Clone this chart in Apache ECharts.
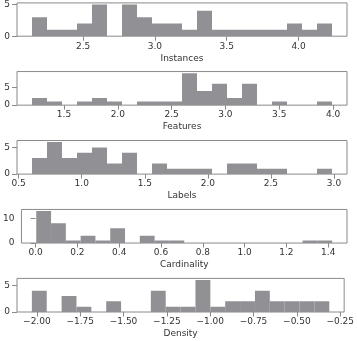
<!DOCTYPE html>
<html>
<head>
<meta charset="utf-8">
<script src="https://cdn.jsdelivr.net/npm/echarts@6/dist/echarts.min.js"></script>
<style>
  html, body { margin: 0; padding: 0; background: #fff; }
  #chart { width: 357px; height: 341px; }
</style>
</head>
<body>
<div id="chart"></div>
<script>
// Five 20-bin histograms, one per dataset statistic (log scale values).
const panelNames = ['Instances', 'Features', 'Labels', 'Cardinality', 'Density'];

// Bin counts (20 equal-width bins between the data min and max)
const instancesCounts   = [3, 1, 1, 2, 5, 0, 5, 3, 2, 2, 1, 4, 1, 1, 1, 1, 1, 2, 1, 2];
const featuresCounts    = [2, 1, 0, 1, 2, 1, 0, 1, 1, 1, 9, 4, 6, 2, 6, 0, 1, 0, 0, 1];
const labelsCounts      = [3, 6, 3, 4, 5, 2, 4, 0, 2, 1, 1, 1, 0, 2, 2, 1, 1, 0, 0, 1];
const cardinalityCounts = [13, 8, 1, 3, 1, 6, 0, 3, 1, 1, 0, 0, 0, 0, 0, 0, 0, 0, 1, 1];
const densityCounts     = [4, 0, 3, 1, 0, 2, 0, 0, 4, 1, 1, 6, 1, 2, 2, 4, 2, 2, 2, 2];

// Data min and max of each statistic (the histogram range)
const instancesRange   = [2.144, 4.233];
const featuresRange    = [1.203, 3.990];
const labelsRange      = [0.606, 2.984];
const cardinalityRange = [0.003, 1.419];
const densityRange     = [-2.029, -0.313];

// X tick values and their labels
const instancesTicks   = [2.5, 3.0, 3.5, 4.0];
const instancesLabels  = ['2.5', '3.0', '3.5', '4.0'];
const featuresTicks    = [1.5, 2.0, 2.5, 3.0, 3.5, 4.0];
const featuresLabels   = ['1.5', '2.0', '2.5', '3.0', '3.5', '4.0'];
const labelsTicks      = [0.5, 1.0, 1.5, 2.0, 2.5, 3.0];
const labelsLabels     = ['0.5', '1.0', '1.5', '2.0', '2.5', '3.0'];
const cardinalityTicks = [0.0, 0.2, 0.4, 0.6, 0.8, 1.0, 1.2, 1.4];
const cardinalityLabels= ['0.0', '0.2', '0.4', '0.6', '0.8', '1.0', '1.2', '1.4'];
const densityTicks     = [-2.0, -1.75, -1.5, -1.25, -1.0, -0.75, -0.5, -0.25];
const densityLabels    = ['\u22122.00', '\u22121.75', '\u22121.50', '\u22121.25', '\u22121.00', '\u22120.75', '\u22120.50', '\u22120.25'];

// Y tick values
const instancesYTicks   = [0, 5];
const featuresYTicks    = [0, 5];
const labelsYTicks      = [0, 5];
const cardinalityYTicks = [0, 10];
const densityYTicks     = [0, 5];

const panels = [
  { counts: instancesCounts,   range: instancesRange,   ticks: instancesTicks,   labels: instancesLabels,   yTicks: instancesYTicks },
  { counts: featuresCounts,    range: featuresRange,    ticks: featuresTicks,    labels: featuresLabels,    yTicks: featuresYTicks },
  { counts: labelsCounts,      range: labelsRange,      ticks: labelsTicks,      labels: labelsLabels,      yTicks: labelsYTicks },
  { counts: cardinalityCounts, range: cardinalityRange, ticks: cardinalityTicks, labels: cardinalityLabels, yTicks: cardinalityYTicks },
  { counts: densityCounts,     range: densityRange,     ticks: densityTicks,     labels: densityLabels,     yTicks: densityYTicks }
];

const BAR = '#919195';
const FRAME = '#8a8a8a';
const TEXT = '#333333';
const FONT = 'DejaVu Sans';

const gridTop0 = 2.6, gridPitch = 68.95, gridHeight = 33.6;

const grids = [], xAxes = [], yAxes = [], series = [];

panels.forEach(function (p, k) {
  const lo = p.range[0], hi = p.range[1];
  const span = hi - lo;
  const w = span / p.counts.length;
  const bins = p.counts.map(function (c, i) { return [lo + i * w, lo + (i + 1) * w, c]; });
  const maxCount = Math.max.apply(null, p.counts);

  grids.push({
    left: 17, right: 10, top: gridTop0 + k * gridPitch, height: gridHeight,
    show: true, borderColor: FRAME, borderWidth: 1, backgroundColor: 'transparent'
  });

  xAxes.push({
    type: 'value', gridIndex: k,
    min: lo - 0.05 * span, max: hi + 0.05 * span,
    name: panelNames[k], nameLocation: 'middle', nameGap: 17.5,
    nameTextStyle: { fontFamily: FONT, fontSize: 9, color: TEXT },
    axisLine: { show: false },
    splitLine: { show: false },
    axisTick: { show: true, length: 4.5, lineStyle: { color: FRAME, width: 1 }, customValues: p.ticks },
    axisLabel: {
      show: true, margin: 5.5, fontFamily: FONT, fontSize: 9, color: TEXT,
      customValues: p.ticks,
      formatter: function (v) {
        let best = 0;
        p.ticks.forEach(function (t, i) { if (Math.abs(t - v) < Math.abs(p.ticks[best] - v)) best = i; });
        return p.labels[best];
      }
    }
  });

  yAxes.push({
    type: 'value', gridIndex: k,
    min: 0, max: maxCount * 1.05,
    axisLine: { show: false },
    splitLine: { show: false },
    axisTick: { show: true, length: 5, lineStyle: { color: FRAME, width: 1 }, customValues: p.yTicks },
    axisLabel: {
      show: true, margin: 7, fontFamily: FONT, fontSize: 9, color: TEXT,
      customValues: p.yTicks,
      formatter: function (v) { return String(Math.round(v)); }
    }
  });

  series.push({
    type: 'custom', xAxisIndex: k, yAxisIndex: k,
    data: bins,
    clip: true,
    renderItem: function (params, api) {
      const c = api.value(2);
      if (!c) return null;
      const a = api.coord([api.value(0), c]);
      const b = api.coord([api.value(1), 0]);
      return {
        type: 'rect',
        shape: { x: a[0], y: a[1], width: b[0] - a[0], height: b[1] - a[1] },
        style: { fill: BAR }
      };
    }
  });
});

const chart = echarts.init(document.getElementById('chart'), null, { renderer: 'canvas' });
chart.setOption({
  animation: false,
  backgroundColor: '#ffffff',
  grid: grids,
  xAxis: xAxes,
  yAxis: yAxes,
  series: series
});
</script>
</body>
</html>
